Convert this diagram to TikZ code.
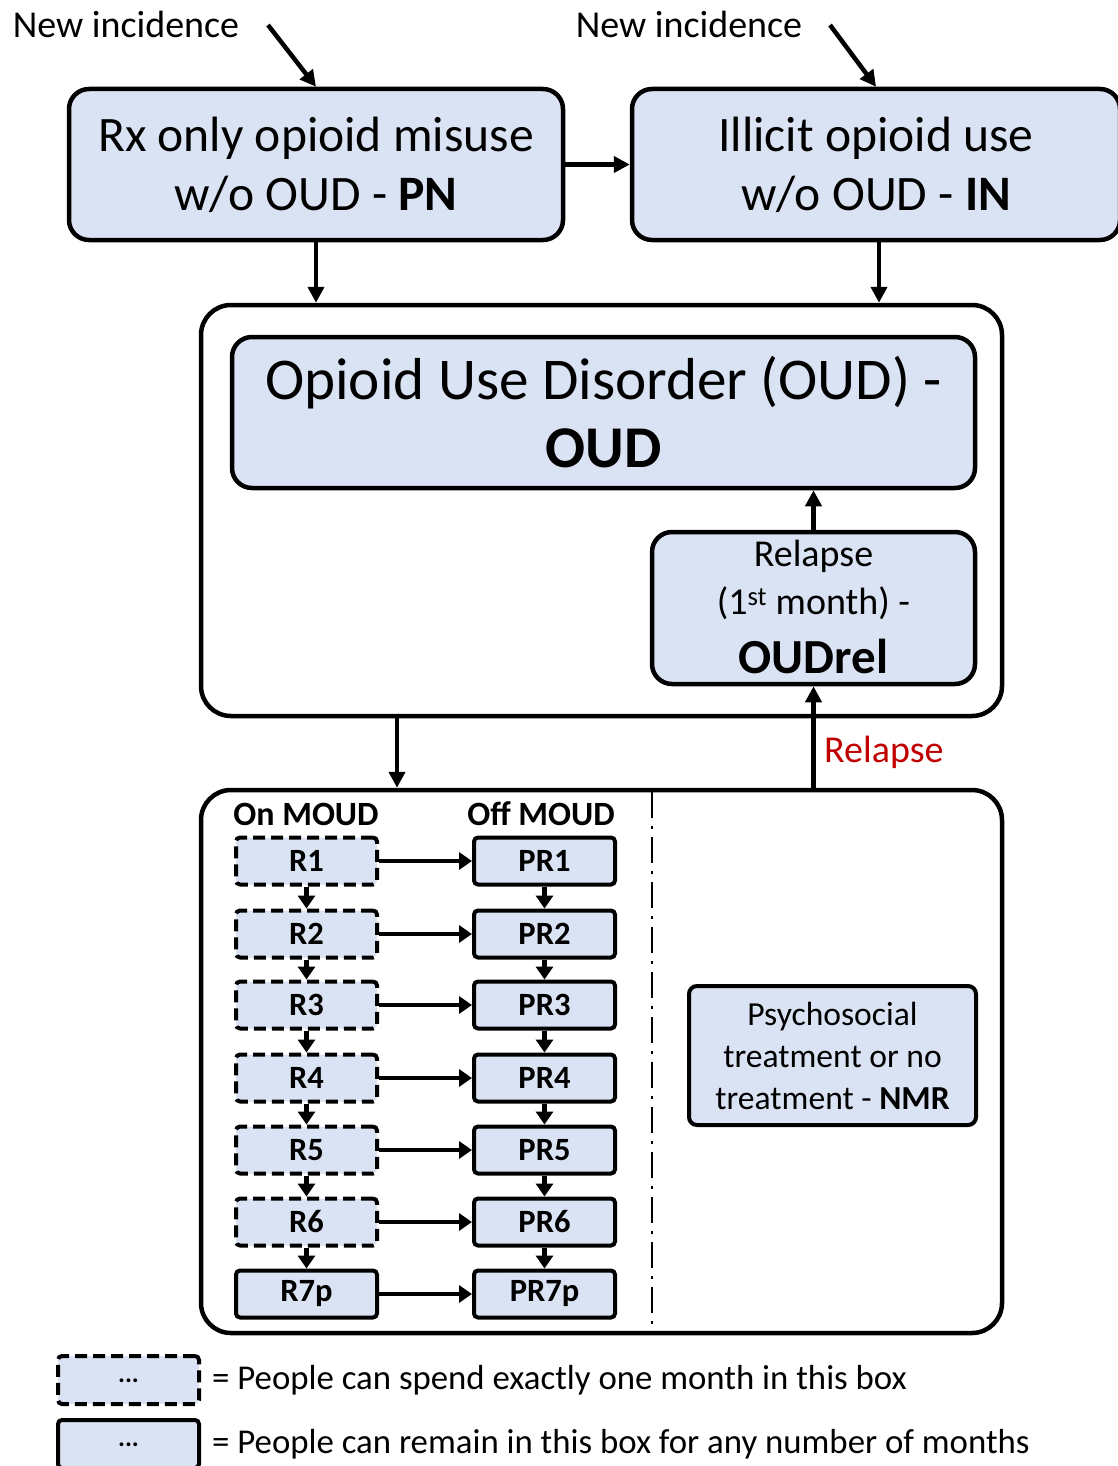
\documentclass[tikz,border=0pt]{standalone}
\usepackage{fontspec}
\setmainfont{Carlito}
\usetikzlibrary{arrows.meta,calc}
\definecolor{boxfill}{RGB}{218,227,243}
\definecolor{relred}{RGB}{192,0,0}
\begin{document}
\begin{tikzpicture}[x=1pt,y=-1pt,
  bigbox/.style={draw, line width=4.5pt, rounded corners=20pt, fill=boxfill, align=center, inner sep=0pt},
  contbox/.style={draw, line width=4.5pt, rounded corners=30pt, fill=white, inner sep=0pt},
  solidsm/.style={draw, line width=4pt, rounded corners=4pt, fill=boxfill, minimum width=141pt, minimum height=47pt, inner sep=0pt, font=\fontsize{32.5}{39}\selectfont\bfseries},
  dashsm/.style={solidsm, dash pattern=on 12pt off 6pt},
  arr/.style={line width=4.5pt, -{Triangle[length=16pt,width=16pt]}},
  sarr/.style={line width=4.5pt, -{Triangle[length=13pt,width=17pt]}},
  lbl/.style={inner sep=0pt, font=\fontsize{38}{44}\selectfont}
]
\useasboundingbox (0,0) rectangle (1117,1466);
\fill[white] (0,0) rectangle (1117,1466);

% top row
\node[lbl] (ni1) at (126,24) {New incidence};
\node[lbl] (ni2) at (689,24) {New incidence};
\coordinate (s1) at (268,25);
\coordinate (s2) at (830,25);

\node[bigbox, minimum width=494pt, minimum height=151pt, font=\fontsize{49.6}{59}\selectfont] (pn) at (316,164.5)
  {Rx only opioid misuse\\ w/o OUD - \textbf{PN}};
\node[bigbox, minimum width=488pt, minimum height=151pt, font=\fontsize{49.6}{59}\selectfont] (in) at (876,164.5)
  {Illicit opioid use\\ w/o OUD - \textbf{IN}};

% OUD container
\node[contbox, minimum width=801pt, minimum height=411pt] (top) at (601.5,510.5) {};
\node[bigbox, minimum width=743pt, minimum height=151pt, font=\fontsize{59.2}{68}\selectfont] (oud) at (603.5,412.5)
  {Opioid Use Disorder (OUD) -\\ \textbf{OUD}};
\node[bigbox, minimum width=323pt, minimum height=152pt] (rel) at (813.5,608) {};
\node[inner sep=0pt, font=\fontsize{38}{44}\selectfont] (rl1) at (813.5,556) {Relapse};
\node[inner sep=0pt, font=\fontsize{38}{44}\selectfont] (rl2) at (813.5,603) {(1\textsuperscript{st} month) -};
\node[inner sep=0pt, font=\fontsize{49}{56}\selectfont\bfseries] (rl3) at (813.5,656) {OUDrel};

% lower container
\node[contbox, minimum width=801pt, minimum height=543pt] (bot) at (601.5,1061.5) {};

\node[inner sep=0pt, font=\fontsize{34}{40}\selectfont\bfseries] (onm) at (306,814) {On MOUD};
\node[inner sep=0pt, font=\fontsize{34}{40}\selectfont\bfseries] (offm) at (541,814) {Off MOUD};

\node[dashsm] (r1) at (306.5,861) {R1};
\node[dashsm] (r2) at (306.5,934) {R2};
\node[dashsm] (r3) at (306.5,1005) {R3};
\node[dashsm] (r4) at (306.5,1078) {R4};
\node[dashsm] (r5) at (306.5,1150) {R5};
\node[dashsm] (r6) at (306.5,1222) {R6};
\node[solidsm] (r7) at (306.5,1294) {R7p};

\node[solidsm] (p1) at (544.5,861) {PR1};
\node[solidsm] (p2) at (544.5,934) {PR2};
\node[solidsm] (p3) at (544.5,1005) {PR3};
\node[solidsm] (p4) at (544.5,1078) {PR4};
\node[solidsm] (p5) at (544.5,1150) {PR5};
\node[solidsm] (p6) at (544.5,1222) {PR6};
\node[solidsm] (p7) at (544.5,1294) {PR7p};

\node[bigbox, rounded corners=8pt, line width=4pt, minimum width=287pt, minimum height=139pt, font=\fontsize{33.6}{42}\selectfont] (nmr) at (832.5,1055.5)
  {Psychosocial\\ treatment or no\\ treatment - \textbf{NMR}};

% dash-dot divider
\coordinate (dv1) at (652,792);
\coordinate (dv2) at (652,1331);
\draw[line width=2.5pt, dash pattern=on 26pt off 8pt on 3pt off 8pt] (dv1) -- (dv2);

% connectors
\draw[arr] (s1) -- (pn.north);
\draw[arr] (s2) -- (in.north);
\draw[arr] (pn.east) -- (in.west);
\draw[arr] (pn.south) -- (pn.south |- top.north);
\draw[arr] ([xshift=3pt]in.south) -- ([xshift=3pt]in.south |- top.north);
\draw[arr] (rel.north) -- (rel.north |- oud.south);
\coordinate (dn1) at (397,716);
\draw[arr] (dn1) -- (dn1 |- bot.north);
\draw[arr] (rel.south |- bot.north) -- (rel.south);
\node[lbl, text=relred, anchor=west] (rlab) at (824,752) {Relapse};

\foreach \i/\j in {1/2,2/3,3/4,4/5,5/6,6/7}{
  \draw[sarr] (r\i.south) -- (r\j.north);
  \draw[sarr] (p\i.south) -- (p\j.north);
}
\foreach \i in {1,...,7}{
  \draw[sarr] (r\i.east) -- (p\i.west);
}

% legend
\node[dashsm, minimum height=48pt, font=\fontsize{26}{30}\selectfont\bfseries] (lg1) at (128.5,1380) {\raisebox{-6pt}{...}};
\node[solidsm, minimum height=48pt, font=\fontsize{26}{30}\selectfont\bfseries] (lg2) at (128.5,1444) {\raisebox{-6pt}{...}};
\node[lbl, anchor=west, font=\fontsize{34.8}{40}\selectfont] (lt1) at (212,1380) {= People can spend exactly one month in this box};
\node[lbl, anchor=west, font=\fontsize{34.8}{40}\selectfont] (lt2) at (212,1444) {= People can remain in this box for any number of months};
\end{tikzpicture}
\end{document}
